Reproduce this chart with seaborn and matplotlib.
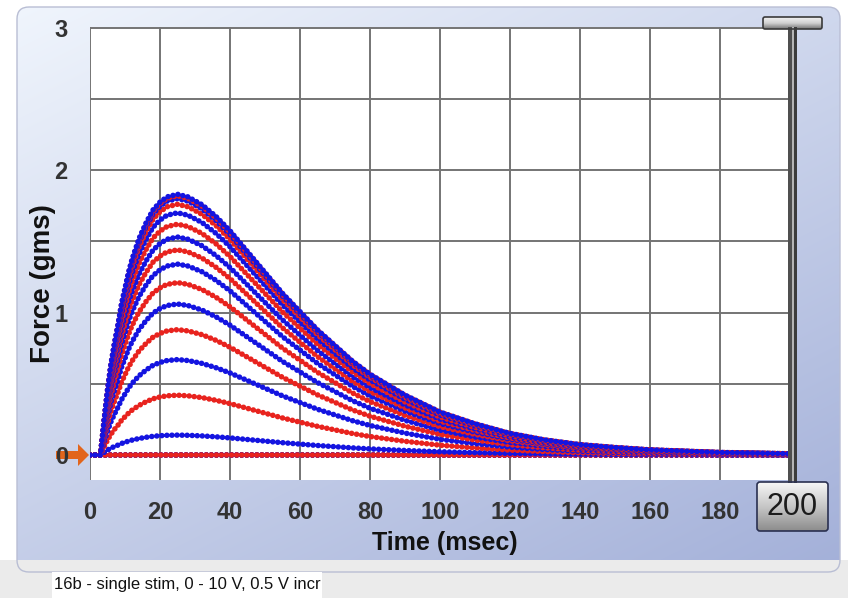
import numpy as np
import pandas as pd
import matplotlib
matplotlib.use("Agg")
import matplotlib.pyplot as plt
import seaborn as sns
from matplotlib import font_manager as fm
from matplotlib.patches import FancyBboxPatch, Rectangle, Polygon

# ---------------- data ----------------
voltages = [0.5, 1.0, 1.5, 2.0, 2.5, 3.0, 3.5, 4.0, 4.5, 5.0,
            5.5, 6.0, 6.5, 7.0, 7.5, 8.0, 8.5, 9.0, 9.5, 10.0]
peak_force = [0.0, 0.0, 0.0, 0.0, 0.0, 0.14, 0.42, 0.67, 0.88, 1.06,
              1.21, 1.34, 1.44, 1.53, 1.62, 1.70, 1.76, 1.80, 1.82, 1.83]
twitch_time = [0, 3, 4, 5, 6, 7, 8, 9, 10, 11, 12, 14, 16, 18, 20, 22, 25,
               28, 32, 36, 40, 45, 50, 55, 60, 65, 70, 75, 80, 90, 100,
               110, 120, 130, 140, 150, 160, 180, 200]
twitch_shape = [0.0, 0.0, 0.13, 0.25, 0.35, 0.43, 0.50, 0.58, 0.64, 0.70,
                0.75, 0.83, 0.89, 0.94, 0.97, 0.99, 1.0, 0.99, 0.96, 0.915,
                0.86, 0.78, 0.70, 0.62, 0.55, 0.48, 0.42, 0.36, 0.31, 0.23,
                0.165, 0.12, 0.083, 0.058, 0.04, 0.029, 0.02, 0.01, 0.005]
x_ticks = [0, 20, 40, 60, 80, 100, 120, 140, 160, 180, 200]
x_tick_labels = ["0", "20", "40", "60", "80", "100", "120", "140", "160", "180", ""]
y_ticks = [0, 1, 2, 3]
y_tick_labels = ["0", "1", "2", "3"]
y_grid = [0, 0.5, 1, 1.5, 2, 2.5, 3]
axis_end_label = "200"
x_label = "Time (msec)"
y_label = "Force (gms)"
caption = "16b - single stim, 0 - 10 V, 0.5 V incr"

rows = []
for v, a in zip(voltages, peak_force):
    for t, s in zip(twitch_time, twitch_shape):
        rows.append({"voltage": v, "time": t, "force": a * s})
df = pd.DataFrame(rows)

# ---------------- style ----------------
sns.set_theme(style="white")
names = {f.name for f in fm.fontManager.ttflist}
NARROW = "Liberation Sans Narrow" if "Liberation Sans Narrow" in names else "Liberation Sans"
plt.rcParams["font.family"] = ["Liberation Sans", "DejaVu Sans"]

RED = "#e8231e"
BLUE = "#1414e0"
palette = {v: (RED if i % 2 == 0 else BLUE) for i, v in enumerate(voltages)}

W, H = 848, 598
fig = plt.figure(figsize=(W / 100, H / 100), dpi=100, facecolor="white")

# ---------------- background panel ----------------
bg = fig.add_axes([0, 0, 1, 1], zorder=-5, label="bg")
bg.set_xlim(0, W)
bg.set_ylim(H, 0)
bg.axis("off")
bg.add_patch(Rectangle((0, 560), W, 40, facecolor="#ebebeb", edgecolor="none"))
px0, py0, px1, py1 = 17, 7, 840, 572
gx = np.linspace(0, 1, 200)[None, :]
gy = np.linspace(0, 1, 200)[:, None]
tt = np.clip(0.42 * gx + 0.58 * gy, 0, 1)
c0 = np.array([0.94, 0.96, 0.99])
c1 = np.array([0.64, 0.69, 0.85])
img = c0[None, None, :] * (1 - tt[..., None]) + c1[None, None, :] * tt[..., None]
im = bg.imshow(img, extent=(px0, px1, py1, py0), origin="upper", aspect="auto",
               interpolation="bilinear")
panel = FancyBboxPatch((px0, py0), px1 - px0, py1 - py0,
                       boxstyle="round,pad=0,rounding_size=12",
                       facecolor="none", edgecolor="#b9bed4", linewidth=1.0)
bg.add_patch(panel)
im.set_clip_path(panel)
# caption box
bg.add_patch(Rectangle((52, 572), 270, 26, facecolor="white", edgecolor="none"))
bg.text(54, 585, caption, fontsize=12, family=[NARROW, "DejaVu Sans"],
        color="#111111", ha="left", va="center")
# orange zero marker
bg.add_patch(Rectangle((56, 451), 23, 8, facecolor="#e2651c", edgecolor="none"))
bg.add_patch(Polygon([(78, 444), (89, 455), (78, 466)], closed=True,
                     facecolor="#e2651c", edgecolor="none"))

# ---------------- main plot ----------------
ax = fig.add_axes([90 / W, (H - 480) / H, 700 / W, 453 / H], zorder=1)
ax.set_facecolor("white")
sns.lineplot(data=df, x="time", y="force", hue="voltage", hue_order=voltages,
             palette=palette, estimator=None, sort=False, legend=False,
             linewidth=4.0, linestyle=(0, (0.01, 0.9)), dash_capstyle="round",
             ax=ax)
ax.set_xlim(0, 200)
ax.set_ylim(-0.175, 3.004)
ax.set_xticks(x_ticks)
ax.set_xticklabels(x_tick_labels)
ax.set_yticks(y_ticks)
ax.set_yticklabels(y_tick_labels)
ax.set_yticks(y_grid, minor=True)
for sp in ax.spines.values():
    sp.set_visible(False)
ax.grid(True, which="both", color="#747474", linewidth=1.4, zorder=0)
ax.set_axisbelow(True)
ax.tick_params(axis="both", which="both", length=0)
ax.tick_params(axis="x", pad=15)
ax.tick_params(axis="y", pad=16)
for lab in ax.get_xticklabels() + ax.get_yticklabels():
    lab.set_family([NARROW, "DejaVu Sans"])
    lab.set_fontsize(17)
    lab.set_fontweight("bold")
    lab.set_color("#333333")
ax.set_xlabel(x_label, fontsize=18, fontweight="bold", color="#111111",
              family=[NARROW, "DejaVu Sans"], va="center", ha="center")
ax.xaxis.set_label_coords((445 - 90) / 700, (480 - 543) / 453)
ax.set_ylabel(y_label, fontsize=20, fontweight="bold", color="#111111",
              va="center", ha="center")
ax.yaxis.set_label_coords((43 - 90) / 700, (480 - 284) / 453)

# ---------------- overlay widgets ----------------
ov = fig.add_axes([0, 0, 1, 1], zorder=5, label="ov")
ov.set_xlim(0, W)
ov.set_ylim(H, 0)
ov.axis("off")
ov.patch.set_alpha(0)
# vertical end bar
ov.add_patch(Rectangle((788, 27), 4, 456, facecolor="#4f4f4f", edgecolor="none"))
ov.add_patch(Rectangle((792, 27), 2, 456, facecolor="#b5b5b5", edgecolor="none"))
ov.add_patch(Rectangle((794, 27), 3, 456, facecolor="#3c3c3c", edgecolor="none"))


def grad_box(x0, y0, x1, y1, top, mid, bottom, edge, r):
    g = np.linspace(0, 1, 100)[:, None]
    t_ = np.array(top); m_ = np.array(mid); b_ = np.array(bottom)
    col = np.where(g[..., None] < 0.5,
                   t_ * (1 - 2 * g[..., None]) + m_ * (2 * g[..., None]),
                   m_ * (2 - 2 * g[..., None]) + b_ * (2 * g[..., None] - 1))
    col = np.repeat(col, 4, axis=1)
    p = FancyBboxPatch((x0, y0), x1 - x0, y1 - y0,
                       boxstyle=f"round,pad=0,rounding_size={r}",
                       facecolor="none", edgecolor=edge, linewidth=1.2)
    ov.add_patch(p)
    gi = ov.imshow(col, extent=(x0, x1, y1, y0), origin="upper", aspect="auto",
                   interpolation="bilinear")
    gi.set_clip_path(p)
    p.set_zorder(gi.get_zorder() + 1)


# top handle
grad_box(763, 17, 822, 29, (0.95, 0.95, 0.95), (0.82, 0.82, 0.82),
         (0.45, 0.45, 0.45), "#3a3a3a", 2)
# 200 button
grad_box(757, 482, 828, 531, (0.97, 0.97, 0.97), (0.78, 0.78, 0.78),
         (0.55, 0.55, 0.55), "#2a3050", 3)
ov.text(792.5, 507, axis_end_label, fontsize=22, family=[NARROW, "DejaVu Sans"],
        color="#1c1c1c", ha="center", va="center")

fig.savefig("out.png", dpi=100, facecolor="white")
